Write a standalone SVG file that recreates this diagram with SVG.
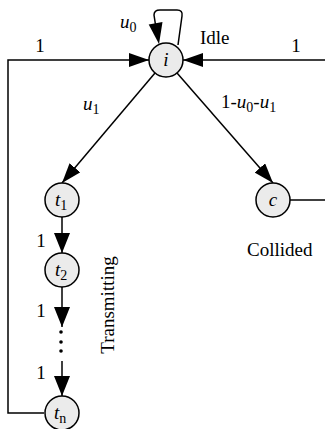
<svg xmlns="http://www.w3.org/2000/svg" width="325" height="429" viewBox="0 0 325 429">
<style>
.ln{fill:none;stroke:#000;stroke-width:1.5}
.nd{fill:#ebebeb;stroke:#000;stroke-width:1.5}
text{font-family:"Liberation Serif","Times New Roman",serif;fill:#000}
.w{font-size:19px}
.m{font-size:19px}
.it{font-style:italic}
.sb{font-size:14px;font-style:normal}
</style>
<defs>
<marker id="ah" markerWidth="20" markerHeight="14" refX="20" refY="7" orient="auto" markerUnits="userSpaceOnUse">
<path d="M0,0 L20,7 L0,14 z" fill="#000"/>
</marker>
<marker id="ahs" markerWidth="20" markerHeight="16" refX="20" refY="8" orient="auto" markerUnits="userSpaceOnUse">
<path d="M0,0 L20,8 L0,16 z" fill="#000"/>
</marker>
</defs>
<rect width="325" height="429" fill="#fff"/>
<g id="connectors">
<polyline class="ln" points="44,413 8,413 8,60 149,60" marker-end="url(#ah)"/>
<polyline class="ln" points="290,200 325,200"/>
<line class="ln" x1="325" y1="60" x2="183" y2="60" marker-end="url(#ah)"/>
<path class="ln" d="M178,45 L182,16 Q183,10 177,10 L160,10 Q154,10 154,15 L156,28"/>
<polygon points="159,44 148.7,24.5 162.5,22.1" fill="#000"/>
<line class="ln" x1="155" y1="73" x2="62" y2="183" marker-end="url(#ah)"/>
<line class="ln" x1="177" y1="73" x2="273" y2="183" marker-end="url(#ah)"/>
<line class="ln" x1="62" y1="217" x2="62" y2="253" marker-end="url(#ahs)"/>
<line class="ln" x1="62" y1="287" x2="62" y2="327" marker-end="url(#ahs)"/>
<line class="ln" x1="62" y1="361" x2="62" y2="396" marker-end="url(#ahs)"/>
<circle cx="61" cy="332" r="1.8" fill="#000"/>
<circle cx="61" cy="342" r="1.8" fill="#000"/>
<circle cx="61" cy="351" r="1.8" fill="#000"/>
</g>
<g id="node-i">
<circle class="nd" cx="166" cy="60" r="17"/>
<text class="m it" x="166" y="66" text-anchor="middle">i</text>
</g>
<g id="node-t1">
<circle class="nd" cx="62" cy="200" r="17"/>
<text class="m it" x="55" y="206">t<tspan class="sb" dy="4">1</tspan></text>
</g>
<g id="node-t2">
<circle class="nd" cx="62" cy="270" r="17"/>
<text class="m it" x="55" y="276">t<tspan class="sb" dy="4">2</tspan></text>
</g>
<g id="node-tn">
<circle class="nd" cx="62" cy="413" r="17"/>
<text class="m it" x="54" y="419">t<tspan class="sb" dy="4">n</tspan></text>
</g>
<g id="node-c">
<circle class="nd" cx="273" cy="200" r="17"/>
<text class="m it" x="273" y="206" text-anchor="middle">c</text>
</g>
<g id="labels">
<text class="m it" x="120" y="28">u<tspan class="sb" dy="4">0</tspan></text>
<text class="w" x="200" y="44">Idle</text>
<text class="m" x="40" y="52" text-anchor="middle">1</text>
<text class="m" x="296" y="52" text-anchor="middle">1</text>
<text class="m it" x="83" y="110">u<tspan class="sb" dy="4">1</tspan></text>
<text class="m" x="221" y="108">1-<tspan class="it">u</tspan><tspan class="sb" dy="4">0</tspan><tspan dy="-4">-</tspan><tspan class="it">u</tspan><tspan class="sb" dy="4">1</tspan></text>
<text class="w" x="247" y="256">Collided</text>
<text class="w" transform="translate(114,305) rotate(-90)" text-anchor="middle">Transmitting</text>
<text class="m" x="41" y="247" text-anchor="middle">1</text>
<text class="m" x="41" y="317" text-anchor="middle">1</text>
<text class="m" x="41" y="379" text-anchor="middle">1</text>
</g>
</svg>
